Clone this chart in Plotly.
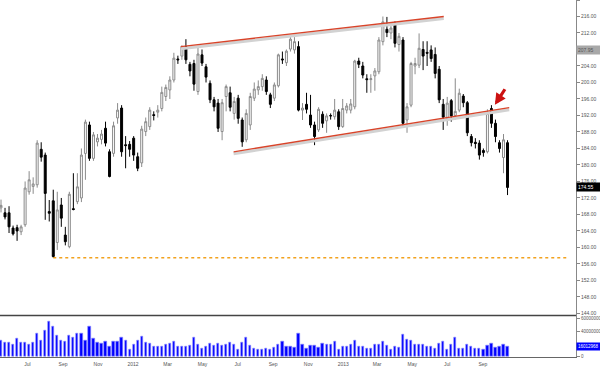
import pandas as pd
import plotly.graph_objects as go

# ---------------- data (weekly bars) ----------------
start_week = "2011-05-16"
n_weeks = 127
dates = pd.date_range(start_week, periods=n_weeks, freq="W-MON")

opens = [169.6, 168.4, 168.4, 164.7, 164.8, 163.8, 165.5, 173.5, 174.8, 175.2,
         183.8, 182.4, 168.7, 171.3, 161.2, 170.3, 163.0, 160.2, 169.4, 171.1,
         172.0, 182.8, 189.7, 181.6, 185.6, 186.2, 188.9, 183.2, 182.8, 191.4,
         193.8, 184.9, 185.0, 186.5, 182.0, 180.5, 188.1, 189.3, 192.2, 192.8,
         193.7, 196.6, 198.2, 200.6, 205.7, 206.4, 208.7, 204.4, 204.6, 197.8,
         206.7, 203.8, 199.8, 195.8, 195.0, 188.1, 196.6, 197.5, 192.5, 196.2,
         190.9, 186.1, 189.7, 196.2, 198.2, 199.0, 200.6, 197.0, 196.2, 199.2,
         205.7, 204.8, 208.1, 207.9, 208.7, 193.3, 194.7, 192.1, 189.7, 188.5,
         192.3, 190.7, 192.0, 191.7, 192.9, 189.3, 193.3, 193.3, 194.1, 205.2,
         204.0, 200.9, 200.7, 201.6, 202.6, 209.9, 212.9, 212.0, 214.3, 209.2,
         210.3, 190.9, 194.5, 204.0, 204.2, 208.0, 207.3, 207.9, 206.8, 203.2,
         194.7, 191.3, 195.6, 192.0, 193.3, 196.7, 195.1, 186.9, 185.5, 185.3,
         183.5, 183.2, 193.7, 190.1, 185.4, 181.8, 185.4]
highs = [171.6, 169.6, 170.0, 165.3, 165.5, 165.5, 176.0, 178.5, 177.0, 186.0,
         185.5, 183.0, 171.5, 174.0, 173.5, 172.0, 165.0, 173.5, 178.0, 178.0,
         184.0, 191.0, 190.5, 188.0, 187.5, 188.5, 190.5, 183.8, 190.5, 195.0,
         194.5, 187.0, 185.8, 187.0, 183.0, 189.5, 191.5, 194.0, 193.0, 194.5,
         199.0, 199.5, 201.5, 207.2, 206.5, 209.0, 210.5, 205.0, 205.5, 208.5,
         208.0, 204.5, 200.5, 196.5, 196.0, 196.0, 199.5, 199.0, 196.5, 197.0,
         191.5, 193.5, 197.5, 200.0, 200.5, 202.0, 201.5, 197.5, 200.0, 207.0,
         207.5, 208.0, 211.5, 211.0, 210.0, 195.0, 197.5, 197.0, 190.5, 194.0,
         193.0, 192.5, 192.5, 196.0, 193.5, 196.0, 195.0, 196.0, 205.5, 206.0,
         205.0, 202.0, 202.0, 203.5, 211.0, 216.0, 215.9, 214.0, 214.8, 212.0,
         211.0, 195.0, 205.0, 206.0, 211.9, 210.0, 210.0, 209.0, 208.5, 204.0,
         196.0, 196.5, 196.0, 201.0, 198.5, 197.2, 195.5, 187.5, 186.5, 186.0,
         184.0, 193.5, 194.5, 191.0, 186.0, 187.5, 186.0]
lows = [168.5, 166.8, 163.5, 162.9, 161.6, 163.0, 165.0, 172.8, 173.0, 174.5,
        180.8, 166.7, 166.3, 157.5, 159.4, 165.0, 160.5, 159.8, 169.0, 170.5,
        171.0, 176.4, 181.0, 181.0, 184.5, 185.0, 184.5, 177.0, 182.0, 190.0,
        182.0, 179.2, 182.0, 181.0, 178.5, 179.5, 187.0, 188.5, 190.8, 191.5,
        193.0, 195.5, 196.0, 200.0, 204.5, 205.5, 204.5, 201.5, 198.0, 197.0,
        204.0, 200.0, 195.0, 193.0, 188.0, 186.0, 193.0, 193.0, 191.0, 190.0,
        184.4, 185.5, 188.5, 195.5, 197.0, 198.0, 197.0, 193.8, 195.5, 198.8,
        204.5, 204.0, 207.5, 207.0, 193.0, 190.9, 192.5, 189.0, 184.8, 188.0,
        189.0, 187.8, 191.0, 191.0, 188.5, 189.0, 192.5, 192.5, 193.5, 203.5,
        201.0, 197.5, 197.5, 198.0, 202.0, 209.0, 211.0, 210.5, 208.5, 207.5,
        189.5, 187.8, 194.0, 202.0, 203.5, 203.0, 204.0, 205.0, 201.0, 195.0,
        188.5, 189.5, 190.5, 191.0, 192.8, 194.0, 187.0, 184.5, 184.0, 181.3,
        182.0, 182.8, 189.0, 185.5, 183.0, 178.0, 172.7]
closes = [170.2, 167.4, 165.0, 163.3, 164.0, 165.0, 174.4, 176.4, 175.4, 185.3,
          181.9, 173.1, 168.3, 157.8, 169.1, 167.1, 161.4, 172.9, 169.2, 174.7,
          182.4, 190.4, 181.6, 187.3, 186.5, 187.5, 185.3, 177.2, 189.5, 193.3,
          183.2, 184.7, 183.8, 182.4, 179.2, 188.7, 190.5, 193.3, 192.0, 193.3,
          197.6, 198.8, 200.6, 205.9, 205.5, 208.7, 205.5, 202.8, 199.6, 206.9,
          204.7, 201.3, 195.8, 194.1, 188.9, 195.1, 199.0, 194.0, 195.4, 191.3,
          185.6, 192.5, 196.6, 198.4, 199.0, 201.0, 197.8, 194.7, 199.4, 206.7,
          205.5, 207.6, 210.5, 209.9, 193.3, 193.8, 193.5, 189.7, 186.9, 193.5,
          190.1, 191.9, 191.9, 193.3, 189.3, 193.7, 194.3, 194.8, 205.2, 204.4,
          201.8, 200.7, 200.9, 202.8, 210.3, 214.7, 212.1, 213.2, 209.5, 211.2,
          190.1, 194.1, 204.6, 204.6, 208.3, 206.4, 207.1, 205.8, 202.2, 195.8,
          191.6, 195.0, 191.9, 193.0, 197.4, 195.1, 187.8, 185.4, 185.2, 182.4,
          183.0, 192.5, 190.1, 186.9, 184.0, 186.1, 174.55]
volume_millions = [25.3, 22, 22, 20, 28, 22, 22, 20, 22.6, 36,
                   25.3, 40.6, 56, 47, 32.7, 25.3, 24.5, 32.7, 31, 37,
                   37, 25.3, 47, 28, 22.6, 20.5, 24.5, 15.3, 24.5, 23.5,
                   29.5, 25.8, 11, 18.5, 25.3, 32, 22, 21.5, 16.4, 16.4,
                   16.4, 19, 20.5, 24.5, 15.8, 15.3, 15.3, 16.9, 29.5, 19,
                   13.2, 16.4, 21.5, 17.9, 20.5, 17.9, 19, 22, 18.5, 11,
                   22, 29.5, 17.9, 13.2, 11, 11, 12.6, 11.5, 14, 19,
                   24, 16.4, 16.4, 14, 37,
                   19, 13.2, 17.9, 17.9, 15, 20.5, 18.5, 18.5, 23.5, 11.5,
                   15.3, 15.3, 18.5, 25.8, 15.3, 15.3, 13.2, 13.2, 18.5, 18.5,
                   23.5, 17.4, 12, 15.3, 14.2, 35.8, 27.4, 25.8, 18.5, 20,
                   19, 16.4, 16.4, 13.2, 20.5, 24.5, 11.5, 20, 31, 13.2,
                   13.2, 19, 15.3, 13.2, 13.2, 11.5, 17.4, 20.5, 15, 16,
                   20, 16.012968]
volumes = [v * 1e6 for v in volume_millions]

# month tick labels
tick_dates = ["2011-07-01", "2011-09-01", "2011-11-01", "2012-01-01", "2012-03-01",
              "2012-05-01", "2012-07-01", "2012-09-01", "2012-11-01", "2013-01-01",
              "2013-03-01", "2013-05-01", "2013-07-01", "2013-09-01"]
tick_labels = ["Jul", "Sep", "Nov", "2012", "Mar", "May", "Jul", "Sep", "Nov", "2013",
               "Mar", "May", "Jul", "Sep"]
# visible price ticks (208.00 is hidden under the 207.95 marker)
price_ticks = [144, 148, 152, 156, 160, 164, 168, 172, 176, 180, 184, 188, 192,
               196, 200, 204, 212, 216, 220]
volume_ticks = [0, 40000000, 60000000]
volume_tick_labels = ["0", "40000000", "60000000"]

# drawn channel lines (date, price)
upper_channel = [("2012-03-24", 208.7), ("2013-06-25", 216.0)]
lower_channel = [("2012-06-24", 183.2), ("2013-10-17", 193.9)]
support_level = [("2011-08-15", 157.5), ("2014-01-28", 157.5)]
arrow_tip = ("2013-09-22", 194.6)
last_price_label = "174.55"
last_price = 174.55
ref_price_label = "207.95"
ref_price = 207.95
last_volume_label = "16012968"

# ---------------- figure ----------------
week_ms = 7 * 86400000
px_per_week = 4.02
x_left = pd.Timestamp(start_week) - pd.Timedelta(days=7 / px_per_week)
x_right = x_left + pd.Timedelta(days=576 / px_per_week * 7)

fig = go.Figure()
fig.add_trace(go.Candlestick(
    x=dates, open=opens, high=highs, low=lows, close=closes,
    increasing=dict(line=dict(color="#8a8a8a", width=1), fillcolor="white"),
    decreasing=dict(line=dict(color="black", width=1), fillcolor="black"),
    xaxis="x", yaxis="y", showlegend=False, hoverinfo="skip"))
fig.add_trace(go.Bar(
    x=dates, y=volumes, width=0.55 * week_ms,
    marker=dict(color="#0000ff", line=dict(color="#8c8cff", width=0.6)),
    xaxis="x", yaxis="y2", showlegend=False, hoverinfo="skip"))

split = (357 - 315.5) / 357
font_family = "Liberation Sans, Arial, sans-serif"
tick_font = dict(family=font_family, size=5, color="#555")

shapes = []
for line in (upper_channel, lower_channel):
    (d0, p0), (d1, p1) = line
    shapes.append(dict(type="line", xref="x", yref="y", x0=d0, x1=d1,
                       y0=p0 - 0.5, y1=p1 - 0.5, line=dict(color="#d2d2d2", width=3)))
    shapes.append(dict(type="line", xref="x", yref="y", x0=d0, x1=d1,
                       y0=p0, y1=p1, line=dict(color="#d8442a", width=1.3)))
shapes.append(dict(type="line", xref="x", yref="y",
                   x0=support_level[0][0], x1=support_level[1][0],
                   y0=support_level[0][1], y1=support_level[1][1],
                   line=dict(color="#f2a21e", width=1.3, dash="dot")))
shapes.append(dict(type="line", xref="paper", yref="paper", x0=0, x1=1,
                   y0=split, y1=split, line=dict(color="#444", width=1.6)))

annotations = [
    dict(x=arrow_tip[0], y=arrow_tip[1], xref="x", yref="y", text="",
         showarrow=True, ax=11, ay=-17, arrowcolor="#cc1111", arrowwidth=3.2,
         arrowhead=2, arrowsize=0.7, standoff=0),
    dict(x=1.0, xref="paper", y=ref_price, yref="y", text=ref_price_label,
         showarrow=False, xanchor="left", bgcolor="#a8a8a8", width=21, align="left",
         font=dict(family=font_family, size=5, color="#555"), borderpad=1),
    dict(x=1.0, xref="paper", y=last_price, yref="y", text=last_price_label,
         showarrow=False, xanchor="left", bgcolor="#000000", width=21, align="left",
         font=dict(family=font_family, size=5, color="white"), borderpad=1),
    dict(x=1.0, xref="paper", y=volumes[-1], yref="y2", text=last_volume_label,
         showarrow=False, xanchor="left", bgcolor="#0000ff", width=21, align="left",
         font=dict(family=font_family, size=4.5, color="white"), borderpad=1),
]

fig.update_layout(
    width=600, height=369,
    margin=dict(l=0, r=24, t=0, b=12),
    paper_bgcolor="white", plot_bgcolor="white",
    bargap=0,
    xaxis=dict(domain=[0, 1], anchor="y2", type="date",
               range=[x_left, x_right], rangeslider=dict(visible=False),
               tickvals=tick_dates, ticktext=tick_labels, tickfont=tick_font,
               showgrid=False, zeroline=False, showline=True, linecolor="#666",
               linewidth=1, ticks="outside", ticklen=2, tickcolor="white"),
    yaxis=dict(domain=[split, 1], anchor="x", side="right",
               range=[143.5, 220], tickvals=price_ticks, tickformat=".2f",
               tickfont=tick_font, showgrid=False, zeroline=False,
               showline=True, linecolor="#888", linewidth=1,
               ticks="outside", ticklen=3, tickcolor="#888"),
    yaxis2=dict(domain=[0, split], anchor="x", side="right",
                range=[-0.5e6, 65e6], tickvals=volume_ticks,
                ticktext=volume_tick_labels,
                tickfont=dict(family=font_family, size=4.5, color="#555"),
                showgrid=False, zeroline=False, showline=True, linecolor="#888",
                linewidth=1, ticks="outside", ticklen=3, tickcolor="#888"),
    shapes=shapes,
    annotations=annotations,
)

fig.write_html("out.html", config={"displayModeBar": False},
               post_script="document.body.style.margin='0';document.body.style.overflow='hidden';")
